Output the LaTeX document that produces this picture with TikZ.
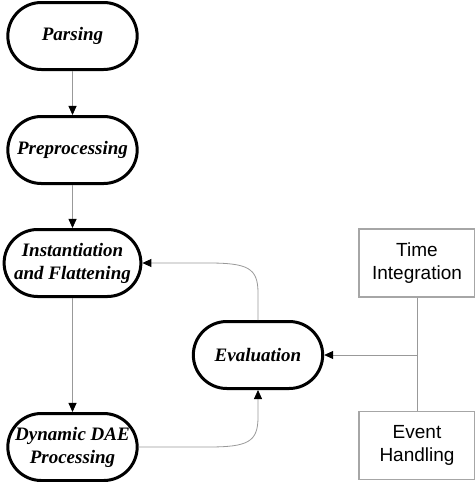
\documentclass[tikz,border=0pt]{standalone}
\usepackage{fontspec}
\setmainfont{Liberation Serif}
\setsansfont{Liberation Sans}
\usepackage{tikz}
\usetikzlibrary{shapes.misc}
\usetikzlibrary{arrows.meta}
\usetikzlibrary{positioning}

\begin{document}
\begin{tikzpicture}[x=1pt,y=-1pt,
    stage/.style={rounded rectangle, draw=black, line width=3pt,
      minimum width=136pt, minimum height=67pt, align=center,
      font=\fontsize{19}{23}\selectfont\bfseries\itshape},
    solver/.style={rectangle, draw=gray!70, line width=1.1pt,
      minimum width=116pt, minimum height=68pt, align=center,
      font=\fontsize{19}{23}\selectfont\sffamily},
    flow/.style={draw=gray!80, line width=0.8pt,
      -{Triangle[length=9pt,width=8pt,black]}}]
  \useasboundingbox (0,0) rectangle (474,482);
  % left column
  \node[stage] (parse) at (72.5,36) {Parsing};
  \node[stage] (prep)  at (72.5,150) {Preprocessing};
  \node[stage] (inst)  at (72.5,263) {Instantiation\\and Flattening};
  \node[stage] (dae)   at (72.5,447) {Dynamic DAE\\Processing};
  % middle and right
  \node[stage] (eval)  at (258,355) {Evaluation};
  \node[solver] (time)  at (417,263) {Time\\Integration};
  \node[solver] (event) at (417,445.5) {Event\\Handling};
  \coordinate (join) at (417,355);
  \draw[flow] (parse) -- (prep);
  \draw[flow] (prep) -- (inst);
  \draw[flow] (inst) -- (dae);
  \draw[flow] (eval.north) -- (258,293)
    .. controls (258,268) and (248,263) .. (208,263) -- (inst.east);
  \draw[flow] (dae.east) -- (208,447)
    .. controls (248,447) and (258,442) .. (258,417) -- (eval.south);
  \draw[draw=gray!80, line width=0.8pt] (time) -- (event);
  \draw[flow] (join) -- (eval.east);
\end{tikzpicture}
\end{document}
